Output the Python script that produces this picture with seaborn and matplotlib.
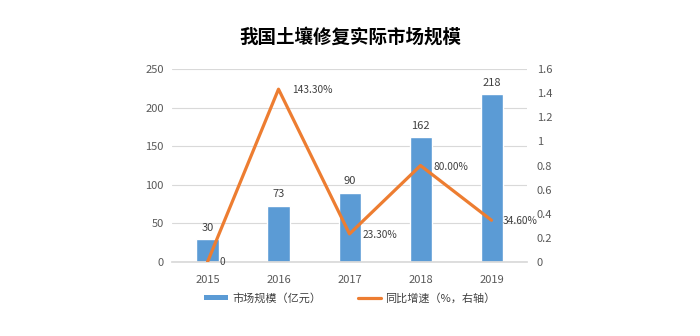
import matplotlib
matplotlib.use("Agg")
import matplotlib.pyplot as plt
import seaborn as sns
import numpy as np
import pandas as pd
from matplotlib.patches import Patch
from matplotlib.lines import Line2D

years = ["2015", "2016", "2017", "2018", "2019"]
market_size = [30, 73, 90, 162, 218]
growth = [0.0, 1.433, 0.233, 0.80, 0.346]
growth_labels = ["0", "143.30%", "23.30%", "80.00%", "34.60%"]
title = "我国土壤修复实际市场规模"
legend_bar = "市场规模（亿元）"
legend_line = "同比增速（%，右轴）"

sns.set_theme(style="white")
plt.rcParams['font.family'] = ['Noto Sans CJK SC', 'DejaVu Sans']

BLUE = "#5B9BD5"
ORANGE = "#ED7D31"
TXT = "#404040"
TICK = "#595959"

fig = plt.figure(figsize=(7, 3.36), dpi=100)
ax = fig.add_axes([0.2457, 0.2202, 0.5072, 0.5744])
df = pd.DataFrame({"year": years, "size": market_size, "growth": growth})

sns.barplot(data=df, x="year", y="size", color=BLUE, width=0.31, ax=ax, saturation=1)
ax.set_ylim(0, 250)
ax.set_yticks(np.arange(0, 251, 50))
ax.set_xlim(-0.5, 4.5)
ax.grid(axis="y", color="#D9D9D9", linewidth=0.8)
ax.set_axisbelow(True)
for s in ax.spines.values():
    s.set_visible(False)
ax.spines["bottom"].set_visible(True)
ax.spines["bottom"].set_color("#D9D9D9")
ax.set_xlabel("")
ax.set_ylabel("")
ax.tick_params(axis="y", length=0, labelsize=8, colors=TICK, pad=6)
ax.tick_params(axis="x", length=0, labelsize=8, colors=TICK, pad=9.5)

for i, v in enumerate(market_size):
    ax.text(i, v + 8, str(v), ha="center", va="bottom", fontsize=8, color=TXT)

ax2 = ax.twinx()
sns.lineplot(x=np.arange(len(years)), y=growth, ax=ax2, color=ORANGE, linewidth=2.3)
ax2.set_ylim(0, 1.6)
ax2.set_yticks(np.arange(0, 1.61, 0.2))
ax2.set_yticklabels(["0", "0.2", "0.4", "0.6", "0.8", "1", "1.2", "1.4", "1.6"])
ax2.set_xlim(-0.5, 4.5)
for s in ax2.spines.values():
    s.set_visible(False)
ax2.tick_params(axis="y", length=0, labelsize=8, colors=TICK, pad=7)
ax2.set_ylabel("")
ax2.grid(False)

offsets = [(0.17, 0.0), (0.19, 1.43), (0.18, 0.225), (0.18, 0.79), (0.16, 0.34)]
for i, (lab, (dx, y)) in enumerate(zip(growth_labels, offsets)):
    ax2.text(i + dx, y, lab, ha="left", va="center", fontsize=7.3, color=TXT)

fig.text(0.5, 0.89, title, ha="center", va="center", fontsize=13.3, fontweight="bold", color="#000000")

handles = [Patch(facecolor=BLUE, edgecolor="none"),
           Line2D([0], [0], color=ORANGE, linewidth=2.3)]
fig.legend(handles, [legend_bar, legend_line], loc="center", bbox_to_anchor=(0.5, 0.112),
           ncol=2, frameon=False, fontsize=8, handlelength=2.1, handleheight=0.35,
           columnspacing=3.3, handletextpad=0.4, labelcolor=TXT)

fig.savefig("out.png", dpi=100)
